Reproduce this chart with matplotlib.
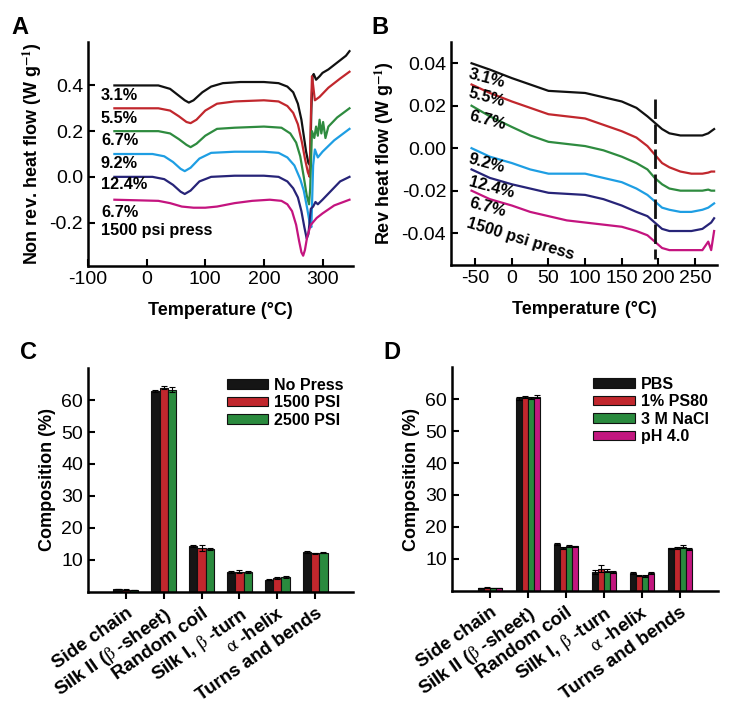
import numpy as np
import matplotlib
matplotlib.use('Agg')
from matplotlib import pyplot as plt

plt.rcParams['font.family'] = ['Liberation Sans', 'DejaVu Sans']
plt.rcParams['mathtext.fontset'] = 'stix'
plt.rcParams['axes.unicode_minus'] = False

# ---- panel A: non reversing heat flow ----
a_t_black = [-55, 20, 40, 55, 65, 72, 80, 95, 110, 130, 160, 200, 225, 240, 250, 258, 264, 268, 272, 276, 279, 281, 283, 285, 289, 295, 300, 310, 320, 330, 340, 346]
a_v_black = [0.40, 0.40, 0.385, 0.355, 0.335, 0.325, 0.335, 0.37, 0.395, 0.41, 0.415, 0.415, 0.41, 0.395, 0.37, 0.32, 0.25, 0.18, 0.11, 0.06, 0.05, 0.30, 0.44, 0.45, 0.425, 0.44, 0.455, 0.47, 0.49, 0.51, 0.53, 0.55]
a_t_red = [-55, 20, 40, 55, 68, 75, 85, 100, 120, 150, 200, 225, 240, 250, 258, 265, 270, 275, 278, 280, 282, 284, 287, 295, 310, 330, 346]
a_v_red = [0.30, 0.30, 0.29, 0.265, 0.24, 0.235, 0.25, 0.29, 0.32, 0.33, 0.335, 0.33, 0.31, 0.28, 0.23, 0.15, 0.08, 0.02, 0.0, 0.25, 0.44, 0.40, 0.335, 0.35, 0.39, 0.43, 0.46]
a_t_green = [-55, 20, 40, 55, 68, 75, 85, 100, 120, 150, 200, 230, 245, 255, 262, 268, 273, 277, 279, 282, 286, 289, 292, 295, 298, 301, 305, 310, 325, 346]
a_v_green = [0.20, 0.20, 0.19, 0.165, 0.14, 0.13, 0.145, 0.18, 0.21, 0.215, 0.22, 0.215, 0.19, 0.15, 0.09, 0.0, -0.08, -0.12, -0.05, 0.20, 0.17, 0.22, 0.18, 0.25, 0.19, 0.24, 0.17, 0.22, 0.26, 0.30]
a_t_blue = [-55, 10, 30, 45, 58, 65, 75, 90, 110, 150, 200, 225, 240, 252, 262, 268, 274, 278, 281, 284, 287, 292, 300, 320, 346]
a_v_blue = [0.10, 0.10, 0.09, 0.065, 0.035, 0.025, 0.04, 0.08, 0.105, 0.11, 0.11, 0.105, 0.085, 0.05, -0.01, -0.06, -0.14, -0.20, -0.22, 0.05, 0.12, 0.085, 0.11, 0.16, 0.21]
a_t_navy = [-55, 10, 30, 45, 58, 65, 75, 90, 110, 150, 200, 225, 240, 250, 258, 264, 269, 273, 276, 280, 284, 288, 292, 300, 315, 330, 346]
a_v_navy = [0.0, 0.0, -0.01, -0.035, -0.065, -0.075, -0.06, -0.02, 0.0, 0.005, 0.005, 0.0, -0.02, -0.05, -0.09, -0.15, -0.22, -0.27, -0.25, -0.14, -0.13, -0.11, -0.12, -0.10, -0.06, -0.02, 0.0]
a_t_mag = [-55, 20, 40, 60, 80, 100, 120, 150, 180, 210, 230, 240, 248, 255, 260, 264, 267, 270, 274, 280, 290, 300, 320, 346]
a_v_mag = [-0.10, -0.105, -0.115, -0.13, -0.135, -0.135, -0.13, -0.115, -0.105, -0.10, -0.105, -0.12, -0.15, -0.21, -0.28, -0.33, -0.345, -0.32, -0.26, -0.21, -0.18, -0.16, -0.125, -0.10]

# ---- panel B: reversing heat flow ----
b_t = [-55, -30, 0, 25, 50, 75, 100, 125, 150, 170, 185, 195, 205, 215, 230, 245, 260, 268, 272, 276]
b_black = [0.040, 0.037, 0.033, 0.030, 0.027, 0.0265, 0.026, 0.024, 0.022, 0.019, 0.015, 0.012, 0.009, 0.007, 0.006, 0.006, 0.006, 0.007, 0.008, 0.009]
b_red = [0.030, 0.026, 0.022, 0.019, 0.016, 0.015, 0.014, 0.011, 0.008, 0.005, 0.001, -0.003, -0.007, -0.009, -0.011, -0.012, -0.012, -0.0115, -0.011, -0.011]
b_green = [0.020, 0.015, 0.010, 0.006, 0.003, 0.002, 0.001, -0.001, -0.004, -0.007, -0.010, -0.014, -0.017, -0.019, -0.020, -0.020, -0.020, -0.0195, -0.020, -0.020]
b_blue = [0.000, -0.004, -0.007, -0.010, -0.012, -0.012, -0.012, -0.014, -0.016, -0.019, -0.022, -0.025, -0.028, -0.029, -0.030, -0.030, -0.029, -0.028, -0.027, -0.026]
b_navy = [-0.010, -0.014, -0.017, -0.019, -0.021, -0.0215, -0.022, -0.024, -0.027, -0.030, -0.032, -0.035, -0.038, -0.039, -0.039, -0.039, -0.038, -0.036, -0.035, -0.033]
b_mag = [-0.020, -0.024, -0.027, -0.030, -0.032, -0.034, -0.035, -0.036, -0.037, -0.039, -0.041, -0.044, -0.047, -0.048, -0.048, -0.048, -0.048, -0.044, -0.048, -0.039]
vline_b = 196

line_colors = ['#111111', '#c1272d', '#2e8b3f', '#1e9ee3', '#272478', '#c4147f']
curve_names = ['3.1%', '5.5%', '6.7%', '9.2%', '12.4%', '6.7%\n1500 psi press']

# ---- panels C and D: secondary structure ----
structures = ['Side chain', r'Silk II ($\mathrm{\beta}$ -sheet)', 'Random coil',
              r'Silk I, $\mathrm{\beta}$ -turn', r'$\mathrm{\alpha}$ -helix', 'Turns and bends']

c_names = ['No Press', '1500 PSI', '2500 PSI']
c_vals = [[0.9, 62.8, 14.4, 6.2, 3.8, 12.5],
          [0.7, 63.8, 13.7, 6.3, 4.4, 12.1],
          [0.6, 63.2, 13.5, 6.3, 4.8, 12.3]]
c_errs = [[0.1, 0.3, 0.3, 0.3, 0.2, 0.2],
          [0.1, 0.5, 1.0, 0.5, 0.3, 0.2],
          [0.1, 0.8, 0.3, 0.4, 0.3, 0.2]]

d_names = ['PBS', '1% PS80', '3 M NaCl', 'pH 4.0']
d_vals = [[0.9, 60.2, 14.7, 6.0, 5.6, 13.3],
          [1.0, 60.6, 13.3, 7.0, 4.8, 13.5],
          [0.9, 60.2, 14.0, 6.4, 4.8, 13.9],
          [0.9, 60.7, 14.0, 6.0, 5.6, 13.1]]
d_errs = [[0.1, 0.5, 0.2, 0.6, 0.2, 0.2],
          [0.1, 0.3, 0.3, 1.0, 0.2, 0.3],
          [0.1, 0.3, 0.3, 0.5, 0.3, 0.4],
          [0.1, 0.4, 0.2, 0.3, 0.4, 0.2]]

bar_colors = ['#151515', '#c1272d', '#2a8a3e', '#c2177f']


def style_axes(ax):
    for s in ['top', 'right']:
        ax.spines[s].set_visible(False)
    for s in ['left', 'bottom']:
        ax.spines[s].set_linewidth(1.8)
    ax.tick_params(labelsize=14, width=1.5, length=5)


fig = plt.figure(figsize=(7.31, 7.11), dpi=100)

# A
axA = fig.add_axes([0.1204, 0.6259, 0.3625, 0.3150])
curvesA = [(a_t_black, a_v_black), (a_t_red, a_v_red), (a_t_green, a_v_green),
           (a_t_blue, a_v_blue), (a_t_navy, a_v_navy), (a_t_mag, a_v_mag)]
for (t, v), c in zip(curvesA, line_colors):
    axA.plot(t, v, color=c, lw=1.6)
label_y_A = [0.357, 0.257, 0.16, 0.06, -0.035, -0.195]
for name, y in zip(curve_names, label_y_A):
    axA.text(-78, y, name, fontsize=11.7, fontweight='bold', va='center', ha='left', linespacing=1.25)
axA.set_xlim(-100, 352)
axA.set_ylim(-0.39, 0.59)
axA.set_xticks([-100, 0, 100, 200, 300])
axA.set_yticks([-0.2, 0.0, 0.2, 0.4])
axA.set_yticklabels(['-0.2', '0.0', '0.2', '0.4'])
style_axes(axA)
axA.tick_params(direction='in')
axA.set_xlabel('Temperature (°C)', fontsize=13, fontweight='bold', labelpad=10)
axA.set_ylabel(r'Non rev. heat flow (W g$^{\mathbf{-1}}$)', fontsize=13, fontweight='bold')

# B
axB = fig.add_axes([0.617, 0.6273, 0.3639, 0.3136])
for v, c in zip([b_black, b_red, b_green, b_blue, b_navy, b_mag], line_colors):
    axB.plot(b_t, v, color=c, lw=1.6)
axB.plot([vline_b, vline_b], [0.023, -0.052], color='#111111', lw=2, ls=(0, (7, 2)))
label_y_B = [0.033, 0.024, 0.013, -0.007, -0.0185, -0.028]
for name, y in zip(curve_names[:5], label_y_B[:5]):
    axB.text(-61, y, name, fontsize=11.7, fontweight='bold', va='center', ha='left', rotation=-15)
axB.text(-61, label_y_B[5], '6.7%', fontsize=11.7, fontweight='bold', va='center', ha='left', rotation=-15)
axB.text(-61, -0.035, '1500 psi press', fontsize=11.7, fontweight='bold', va='center', ha='left',
         rotation=-17, rotation_mode='anchor')
axB.set_xlim(-83, 280)
axB.set_ylim(-0.055, 0.05)
axB.set_xticks([-50, 0, 50, 100, 150, 200, 250])
axB.set_yticks([-0.04, -0.02, 0.0, 0.02, 0.04])
axB.set_yticklabels(['-0.04', '-0.02', '0.00', '0.02', '0.04'])
style_axes(axB)
axB.tick_params(direction='in')
axB.set_xlabel('Temperature (°C)', fontsize=13, fontweight='bold', labelpad=10)
axB.set_ylabel(r'Rev heat flow (W g$^{\mathbf{-1}}$)', fontsize=13, fontweight='bold')


def bar_panel(ax, names, vals, errs):
    n = len(names)
    w = 0.66 / n if n == 3 else 0.64 / n
    x = np.arange(len(structures))
    for i in range(n):
        off = (i - (n - 1) / 2) * w
        ax.bar(x + off, vals[i], w, yerr=errs[i], color=bar_colors[i], edgecolor='#111111',
               linewidth=0.8, label=names[i], error_kw=dict(elinewidth=0.8, capsize=2, capthick=0.8))
    ax.set_xlim(-1, 6)
    ax.set_ylim(0, 70)
    ax.set_yticks([10, 20, 30, 40, 50, 60])
    ax.set_xticks(x)
    ax.set_xticklabels(structures, rotation=35, ha='right', rotation_mode='anchor',
                       fontsize=13.5, fontweight='bold')
    style_axes(ax)
    ax.tick_params(axis='y', direction='in')
    ax.tick_params(axis='x', direction='out', pad=4)
    for lab in ax.get_xticklabels():
        lab.set_fontsize(13.5)
    ax.set_ylabel('Composition (%)', fontsize=13, fontweight='bold')
    ax.legend(loc='upper right', bbox_to_anchor=(1.02, 1.02), frameon=False, handlelength=2.6,
              handleheight=0.55, labelspacing=0.15, handletextpad=0.4,
              prop={'weight': 'bold', 'size': 11.5})


axC = fig.add_axes([0.1204, 0.1674, 0.3625, 0.3150])
bar_panel(axC, c_names, c_vals, c_errs)
axD = fig.add_axes([0.6183, 0.1688, 0.3639, 0.3150])
bar_panel(axD, d_names, d_vals, d_errs)

for lab, (x, y) in zip('ABCD', [(0.015, 0.978), (0.508, 0.978), (0.028, 0.52), (0.525, 0.52)]):
    fig.text(x, y, lab, fontsize=17, fontweight='bold', va='top', ha='left')

fig.savefig('out.png', dpi=100)
